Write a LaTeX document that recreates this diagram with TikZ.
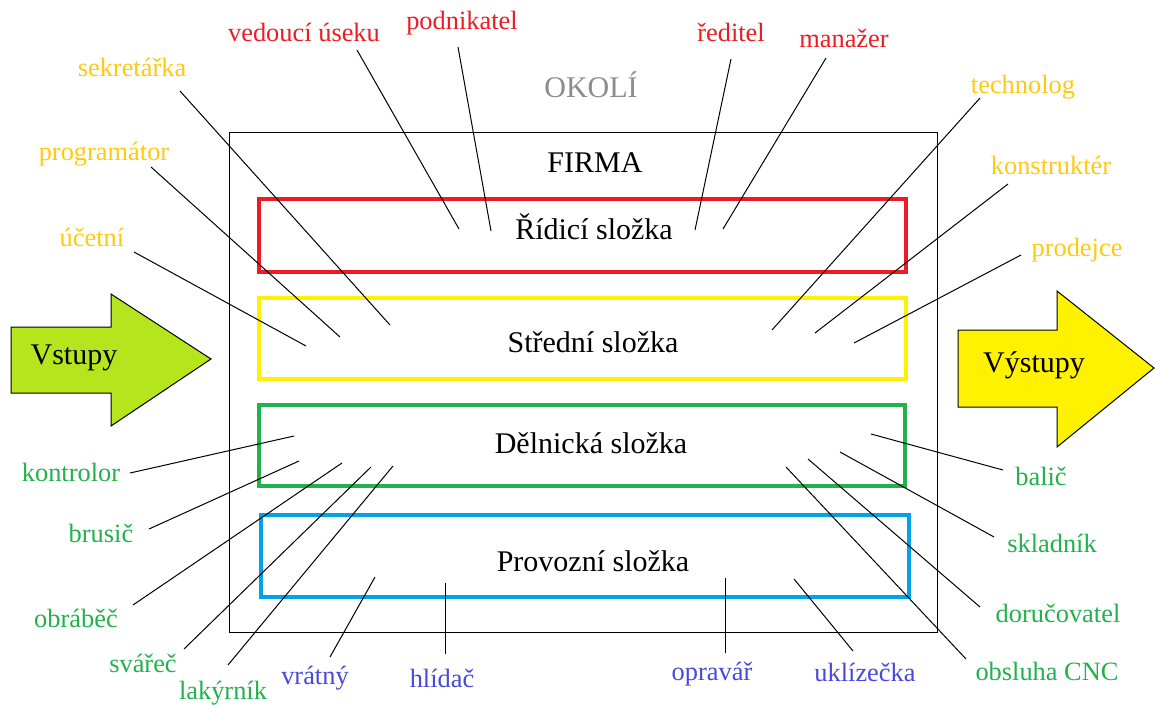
\documentclass[tikz,border=0pt]{standalone}
\usepackage{fontspec}
\setmainfont{Liberation Serif}
\newfontfamily\casopis{Liberation Serif}
\definecolor{cervena}{HTML}{ED1C24}
\definecolor{zluta}{HTML}{FFF200}
\definecolor{oranz}{HTML}{FFC90E}
\definecolor{zelena}{HTML}{22B14C}
\definecolor{modra}{HTML}{00A2E8}
\definecolor{fialova}{HTML}{4848DC}
\definecolor{limetka}{HTML}{B5E61D}
\definecolor{seda}{HTML}{8C8C8C}
\begin{document}
\begin{tikzpicture}[x=0.5pt, y=-0.5pt, line width=0.5pt,
    lbl/.style = {font=\casopis\fontsize{13.2}{15}\selectfont, inner sep=0pt},
    hlavni/.style = {font=\casopis\fontsize{15}{18}\selectfont, inner sep=0pt},
    slozka/.style = {line width=2pt},
    sipka/.style = {draw=black, line width=0.5pt}]
    \useasboundingbox (0,0) rectangle (1155,706);

    % okoli a firma
    \node[hlavni, text=seda] (okoli) at (591,85) {OKOLÍ};
    \draw (229,132) rectangle (937,632);
    \node[hlavni] (firma) at (595,163) {FIRMA};

    % slozky
    \draw[slozka, cervena] (259,199) rectangle (906,272);
    \draw[slozka, zluta] (259,298) rectangle (906,379);
    \draw[slozka, zelena] (259,405) rectangle (905,486);
    \draw[slozka, modra] (261,515) rectangle (909,597);
    \node[hlavni] (ridici) at (594,227) {Řídicí složka};
    \node[hlavni] (stredni) at (593,342) {Střední složka};
    \node[hlavni] (delnicka) at (591,443) {Dělnická složka};
    \node[hlavni] (provozni) at (593,561) {Provozní složka};

    % vstupy a vystupy
    \draw[sipka, fill=limetka] (11,327) -- (111,327) -- (111,294) -- (211,359)
        -- (111,426) -- (111,393) -- (11,393) -- cycle;
    \node[hlavni] (vstupy) at (74,358) {Vstupy};
    \draw[sipka, fill=zluta] (958,330) -- (1057,330) -- (1057,291) -- (1154,368)
        -- (1057,447) -- (1057,407) -- (958,407) -- cycle;
    \node[hlavni] (vystupy) at (1034,365) {Výstupy};

    % ridici slozka
    \node[lbl, text=cervena] (vedouci) at (304,32) {vedoucí úseku};
    \node[lbl, text=cervena] (podnikatel) at (462,23) {podnikatel};
    \node[lbl, text=cervena] (reditel) at (731,32) {ředitel};
    \node[lbl, text=cervena] (manazer) at (844,38) {manažer};
    \coordinate (v1) at (357,50);  \coordinate (v2) at (459,229);
    \coordinate (p1) at (458,47);  \coordinate (p2) at (491,231);
    \coordinate (r1) at (731,59);  \coordinate (r2) at (695,230);
    \coordinate (m1) at (826,58);  \coordinate (m2) at (723,229);
    \draw (v1) -- (v2);
    \draw (p1) -- (p2);
    \draw (r1) -- (r2);
    \draw (m1) -- (m2);

    % stredni slozka
    \node[lbl, text=oranz] (sekretarka) at (132,67) {sekretářka};
    \node[lbl, text=oranz] (programator) at (104,154) {programátor};
    \node[lbl, text=oranz] (ucetni) at (92,237) {účetní};
    \node[lbl, text=oranz] (technolog) at (1023,87) {technolog};
    \node[lbl, text=oranz] (konstrukter) at (1051,165) {konstruktér};
    \node[lbl, text=oranz] (prodejce) at (1077,250) {prodejce};
    \coordinate (s1) at (180,91);   \coordinate (s2) at (390,325);
    \coordinate (g1) at (151,167);  \coordinate (g2) at (340,337);
    \coordinate (u1) at (134,252);  \coordinate (u2) at (306,346);
    \coordinate (t1) at (980,98);   \coordinate (t2) at (772,330);
    \coordinate (k1) at (1008,184); \coordinate (k2) at (815,333);
    \coordinate (d1) at (1021,255); \coordinate (d2) at (854,343);
    \draw (s1) -- (s2);
    \draw (g1) -- (g2);
    \draw (u1) -- (u2);
    \draw (t1) -- (t2);
    \draw (k1) -- (k2);
    \draw (d1) -- (d2);

    % delnicka slozka
    \node[lbl, text=zelena] (kontrolor) at (71,472) {kontrolor};
    \node[lbl, text=zelena] (brusic) at (101,533) {brusič};
    \node[lbl, text=zelena] (obrabec) at (76,618) {obráběč};
    \node[lbl, text=zelena] (svarec) at (143,663) {svářeč};
    \node[lbl, text=zelena] (lakyrnik) at (223,693) {lakýrník};
    \node[lbl, text=zelena] (balic) at (1041,476) {balič};
    \node[lbl, text=zelena] (skladnik) at (1052,543) {skladník};
    \node[lbl, text=zelena] (dorucovatel) at (1058,613) {doručovatel};
    \node[lbl, text=zelena] (obsluha) at (1047,671) {obsluha CNC};
    \coordinate (ko1) at (130,473);  \coordinate (ko2) at (294,436);
    \coordinate (br1) at (149,529);  \coordinate (br2) at (299,461);
    \coordinate (ob1) at (133,605);  \coordinate (ob2) at (342,463);
    \coordinate (sv1) at (184,649);  \coordinate (sv2) at (371,467);
    \coordinate (la1) at (228,665);  \coordinate (la2) at (393,466);
    \coordinate (ba1) at (1003,470); \coordinate (ba2) at (871,434);
    \coordinate (sk1) at (994,537);  \coordinate (sk2) at (840,452);
    \coordinate (do1) at (980,607);  \coordinate (do2) at (808,459);
    \coordinate (cn1) at (966,659);  \coordinate (cn2) at (786,467);
    \draw (ko1) -- (ko2);
    \draw (br1) -- (br2);
    \draw (ob1) -- (ob2);
    \draw (sv1) -- (sv2);
    \draw (la1) -- (la2);
    \draw (ba1) -- (ba2);
    \draw (sk1) -- (sk2);
    \draw (do1) -- (do2);
    \draw (cn1) -- (cn2);

    % provozni slozka
    \node[lbl, text=fialova] (vratny) at (315,678) {vrátný};
    \node[lbl, text=fialova] (hlidac) at (442,678) {hlídač};
    \node[lbl, text=fialova] (opravar) at (712,674) {opravář};
    \node[lbl, text=fialova] (uklizecka) at (865,672) {uklízečka};
    \coordinate (vr1) at (330,657); \coordinate (vr2) at (375,577);
    \coordinate (hl1) at (445,654); \coordinate (hl2) at (445,583);
    \coordinate (op1) at (725,653); \coordinate (op2) at (725,578);
    \coordinate (uk1) at (853,651); \coordinate (uk2) at (794,579);
    \draw (vr1) -- (vr2);
    \draw (hl1) -- (hl2);
    \draw (op1) -- (op2);
    \draw (uk1) -- (uk2);

\end{tikzpicture}
\end{document}
